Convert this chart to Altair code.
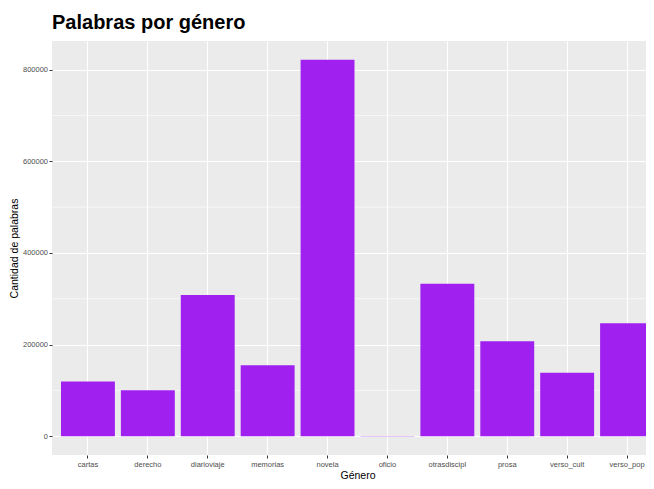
import altair as alt
import pandas as pd

generos = ["cartas", "derecho", "diarioviaje", "memorias", "novela",
           "oficio", "otrasdiscipl", "prosa", "verso_cult", "verso_pop"]
palabras = [119500, 100200, 308400, 154900, 821700, 500, 332800, 207200, 138300, 246600]
major_ticks = [0, 200000, 400000, 600000, 800000]
minor_ticks = [100000, 300000, 500000, 700000]
y_domain = [-41085, 862785]

df = pd.DataFrame({"genero": generos, "palabras": palabras})
minor_df = pd.DataFrame({"v": minor_ticks})

FONT = "Liberation Sans"

yscale = alt.Scale(domain=y_domain, nice=False, zero=False)
yaxis = alt.Axis(values=major_ticks, format="d", labelFontSize=7.5,
                 labelColor="#4D4D4D", labelFont=FONT, tickColor="#333333",
                 tickSize=3, labelPadding=1.5, domain=False, grid=True,
                 gridColor="white", gridWidth=1.1, titleFont=FONT,
                 titleFontSize=10.5, titleFontWeight="normal",
                 titleColor="black", titlePadding=3)

minor = alt.Chart(minor_df).mark_rule(color="white", strokeWidth=0.6).encode(
    y=alt.Y("v:Q", scale=yscale, title="Cantidad de palabras", axis=yaxis)
)

bars = alt.Chart(df).mark_bar(color="#A020F0", clip=True).encode(
    x=alt.X("genero:N", sort=generos, title="Género",
            scale=alt.Scale(range=[0, 611], paddingInner=0.1, paddingOuter=0.15),
            axis=alt.Axis(labelAngle=0, labelFontSize=7.5, labelColor="#4D4D4D",
                          labelFont=FONT, tickColor="#333333", tickSize=3,
                          labelPadding=2.5, domain=False, grid=True, gridColor="white",
                          gridWidth=1.1, titleFont=FONT, titleFontSize=10.5,
                          titleFontWeight="normal", titleColor="black", titlePadding=2)),
    y=alt.Y("palabras:Q", scale=yscale, title="Cantidad de palabras", axis=yaxis),
)

chart = alt.layer(minor, bars).properties(
    width=594,
    height=414,
    autosize=alt.AutoSizeParams(type="none"),
    padding={"left": 44, "top": 33, "right": 0, "bottom": 26},
    title=alt.TitleParams("Palabras por género", anchor="start", frame="group",
                          font=FONT, fontSize=20, fontWeight="bold", color="black",
                          offset=8),
).configure(background="white").configure_view(fill="#EBEBEB", stroke=None)

chart.save("out.html", embed_options={"renderer": "svg", "actions": False})
